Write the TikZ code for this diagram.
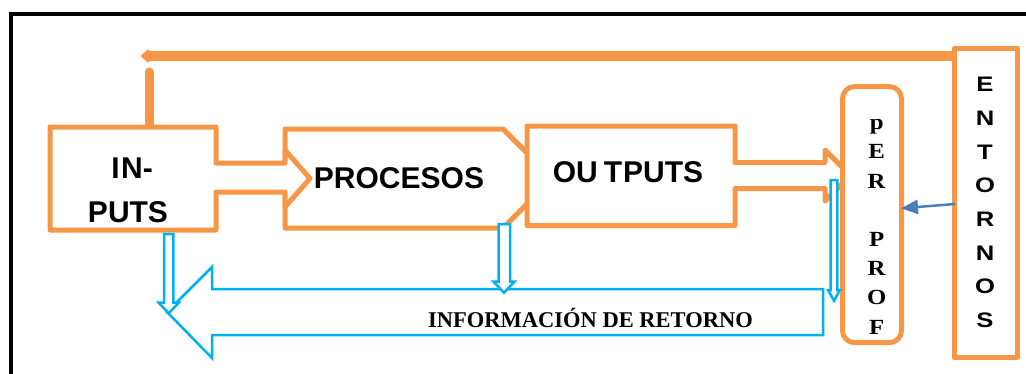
\documentclass[tikz,border=0pt]{standalone}
\usepackage{fontspec}
\setmainfont{Liberation Serif}
\newfontfamily\arialfont{Liberation Sans}
\usetikzlibrary{arrows.meta}
\definecolor{borange}{HTML}{F79646}
\definecolor{bcyan}{HTML}{00B0F0}
\definecolor{bblue}{HTML}{4A7EBB}
\begin{document}
\begin{tikzpicture}[x=1pt,y=-1pt,
  obox/.style={draw=borange,line width=5pt,line join=round,fill=white},
  cyanarrow/.style={draw=bcyan,line width=2.5pt,fill=white,line join=miter},
  bigtxt/.style={font=\arialfont\bfseries\fontsize{30}{36}\selectfont,inner sep=0pt,anchor=base},
  enttxt/.style={font=\arialfont\bfseries\fontsize{21}{25}\selectfont,inner sep=0pt,anchor=base},
  pertxt/.style={font=\bfseries\fontsize{21.6}{26}\selectfont,inner sep=0pt,anchor=base},
  infotxt/.style={font=\bfseries\fontsize{22.5}{27}\selectfont,inner sep=0pt,anchor=base},
  conn/.style={draw=borange,line width=10pt},
  bluearrow/.style={draw=bblue,line width=2.5pt,-{Triangle[length=17pt,width=14pt]}}]
\useasboundingbox (0,0) rectangle (1026,373);
\clip (0,0) rectangle (1026,373);
% outer frame
\draw[line width=4pt] (10.5,13.7) rectangle (1080,430);
% stub above INPUTS
\coordinate (stubtop) at (149,72);
\coordinate (intop) at (149,130);
\draw[draw=borange,line width=9pt,line cap=round] (stubtop) -- (intop);
% PROCESOS
\draw[obox] (285,129) -- (503,129) -- (552.5,178.5) -- (503,228) -- (285,228) -- cycle;
% INPUTS arrow
\draw[obox] (50,127) -- (216,127) -- (216,163) -- (285,163) -- (285,150) -- (310,178.5)
  -- (285,207) -- (285,192) -- (216,192) -- (216,230) -- (50,230) -- cycle;
% OUTPUTS arrow
\draw[obox] (527,126) -- (735,126) -- (735,162.5) -- (825,162.5) -- (825,150) -- (850.5,175.5)
  -- (825,201) -- (825,188.5) -- (735,188.5) -- (735,225.5) -- (527,225.5) -- cycle;
% pER PROF
\node[obox,rounded corners=12pt,minimum width=59pt,minimum height=256pt,inner sep=0pt] (perprof) at (872,214.6) {};
% ENTORNOS
\node[obox,minimum width=63.5pt,minimum height=309pt,inner sep=0pt] (entornos) at (985.75,202.9) {};
% texts
\node[bigtxt] (in1) at (132,178) {I\kern1.5pt N-};
\node[bigtxt] (in2) at (128,222) {PUTS};
\node[bigtxt] (proc) at (399,188) {PROCESOS};
\node[bigtxt] (outp) at (628,182) {OU\kern6pt T\kern1pt PUTS};
\foreach \ch [count=\i from 0] in {E,N,T,O,R,N,O,S}
  \node[enttxt] (ent\i) at (985,91.7+33.66*\i) {\scalebox{1.22}[1]{\ch}};
\foreach \k/\ch in {0/p,1/E,2/R,4/P,5/R,6/O,7/F}
  \node[pertxt] (per\k) at (876.7,129.7+29.2*\k) {\scalebox{1.15}[1]{\ch}};
% top connector
\coordinate (topend) at (141,56);
\draw[conn,-{Triangle[length=9pt,width=15pt,round]}] (entornos.west |- topend) -- (topend);
% blue arrow
\draw[bluearrow] ([xshift=3.7pt,yshift=-1.1pt]entornos.west) -- ([xshift=-3pt,yshift=6.3pt]perprof.east);
% big feedback arrow
\draw[cyanarrow] (167,312) -- (212,267) -- (212,289) -- (823,289) -- (823,335) -- (212,335) -- (212,358) -- cycle;
\node[infotxt] (info) at (590.5,327.5) {INFORMACIÓN DE RETORNO};
% small down arrows
\draw[cyanarrow] (164.1,234) -- (173.3,234) -- (173.3,302.7) -- (178.7,302.7) -- (168.7,313.3) -- (158.7,302.7) -- (164.1,302.7) -- cycle;
\draw[cyanarrow] (498.5,224) -- (510,224) -- (510,281.7) -- (514.5,281.7) -- (504,292.7) -- (493.5,281.7) -- (498.5,281.7) -- cycle;
\draw[cyanarrow] (830.7,180) -- (837.3,180) -- (837.3,290) -- (840,290) -- (834,300.7) -- (828,290) -- (830.7,290) -- cycle;
\end{tikzpicture}
\end{document}
